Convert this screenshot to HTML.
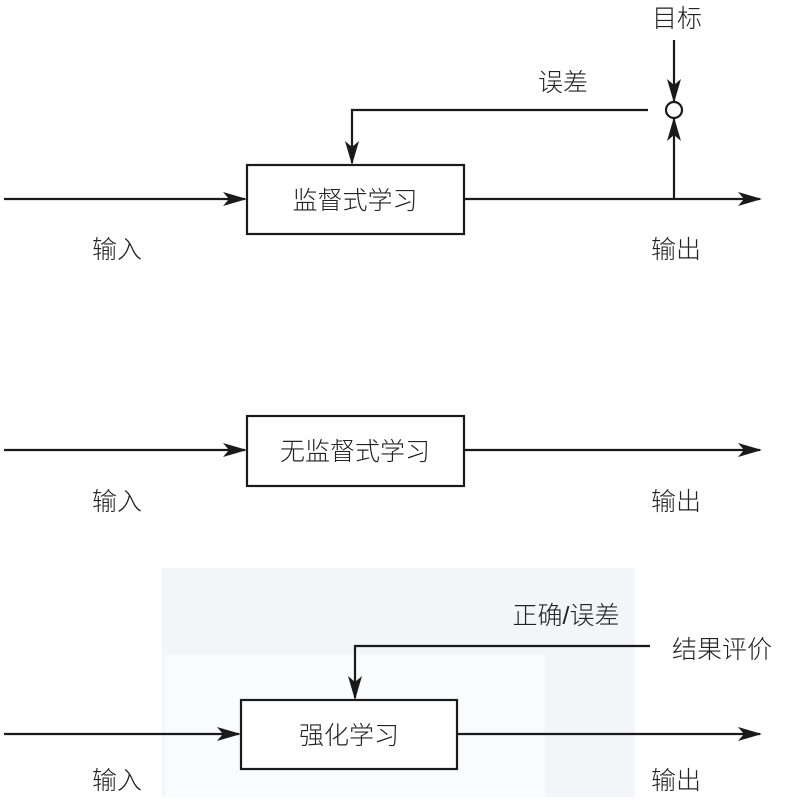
<!DOCTYPE html>
<html><head><meta charset="utf-8"><style>
html,body{margin:0;padding:0;background:#fff;}
body{width:785px;height:797px;overflow:hidden;}
text{font-family:"Liberation Sans","Noto Sans CJK SC",sans-serif;font-size:25px;font-weight:300;fill:#222;}
</style></head><body>
<svg width="785" height="797" viewBox="0 0 785 797" xmlns="http://www.w3.org/2000/svg">
<defs>
<marker id="a" markerWidth="24" markerHeight="14" refX="22" refY="7" orient="auto" markerUnits="userSpaceOnUse">
<path d="M0,0 L24,7 L0,14 L6,7 Z" fill="#1a1a1a"/>
</marker>
</defs>
<rect x="162" y="568" width="473" height="229" fill="#f3f5f9"/>
<rect x="165" y="655" width="380" height="142" fill="#fafbfd"/>
<g stroke="#1a1a1a" stroke-width="2.2" fill="none">
<!-- diagram 1 -->
<rect x="247" y="165" width="217" height="69" fill="#fff"/>
<line x1="4" y1="199" x2="245" y2="199" marker-end="url(#a)"/>
<line x1="464" y1="199" x2="760" y2="199" marker-end="url(#a)"/>
<line x1="674" y1="199" x2="674" y2="119" marker-end="url(#a)"/>
<line x1="674" y1="40" x2="674" y2="101" marker-end="url(#a)"/>
<circle cx="674" cy="110" r="8" fill="#fff"/>
<polyline points="648,110 352,110 352,163" marker-end="url(#a)"/>
<!-- diagram 2 -->
<rect x="247" y="416" width="217" height="70" fill="#fff"/>
<line x1="4" y1="450" x2="245" y2="450" marker-end="url(#a)"/>
<line x1="464" y1="450" x2="760" y2="450" marker-end="url(#a)"/>
<!-- diagram 3 -->
<rect x="241" y="700" width="216" height="69" fill="#fff"/>
<line x1="4" y1="734" x2="239" y2="734" marker-end="url(#a)"/>
<line x1="457" y1="734" x2="760" y2="734" marker-end="url(#a)"/>
<polyline points="650,646 355,646 355,698" marker-end="url(#a)"/>
</g>
<g text-anchor="middle">
<text x="355" y="209">监督式学习</text>
<text x="355" y="460">无监督式学习</text>
<text x="349" y="744">强化学习</text>
<text x="117" y="258">输入</text>
<text x="676" y="258">输出</text>
<text x="117" y="510">输入</text>
<text x="676" y="510">输出</text>
<text x="117" y="789">输入</text>
<text x="676" y="789">输出</text>
<text x="563" y="91">误差</text>
<text x="677" y="27">目标</text>
<text x="566" y="624">正确/误差</text>
<text x="722" y="658">结果评价</text>
</g>
</svg>
</body></html>
